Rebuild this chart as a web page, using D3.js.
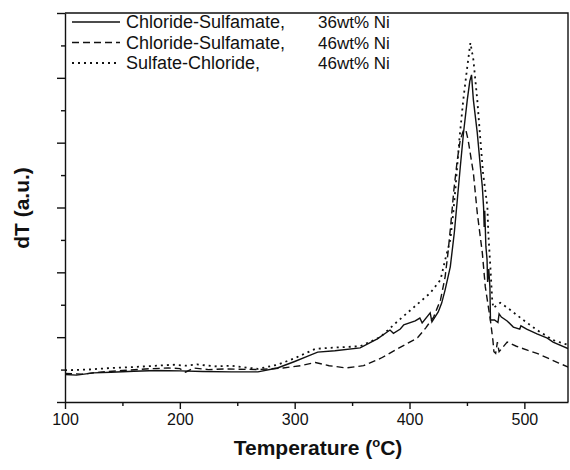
<html>
<script src='https://d3js.org/d3.v7.min.js'></script>

<style>
body { margin: 0; background: #fff; }
text { font-family: "Liberation Sans", Arial, sans-serif; fill: #111; }
.axis path, .axis line { stroke: #111; stroke-width: 1.4; }
.axis text { font-size: 16px; }
</style>

<body onload='init()'>
<svg width="570" height="470" class="chart"></svg>

<script>
// DTA curves, [temperature (C), dT (a.u.)]
var cs36 = [[100,0.85],[110,0.83],[125,0.9],[140,0.92],[160,0.95],[180,0.97],[200,0.96],[220,0.94],[245,0.93],[268,0.93],
  [285,1.05],[300,1.25],[312,1.42],[320,1.54],[335,1.58],[357,1.67],[372,1.95],[383,2.22],[386,2.12],[392,2.25],
  [395,2.38],[405,2.5],[409,2.59],[411,2.44],[418,2.75],[419.5,2.47],[425,2.78],[428,3.05],[431,3.46],[435.5,4.17],
  [439,5.22],[441.6,6.23],[444.2,7.25],[447,8.3],[450.3,9.32],[452.5,9.9],[454,10.09],[455.6,9.32],[459,8.3],
  [461.7,7.25],[463.4,6.64],[464.5,6.0],[465,5.4],[465.5,5.9],[466.5,4.8],[467.5,4.4],[468,3.7],[469,4.1],[470,3.55],
  [470.5,2.53],[474,2.53],[477,2.45],[478,2.72],[480,2.62],[485,2.5],[490.4,2.31],[496,2.25],[497,2.35],[502,2.25],
  [511,2.1],[520,1.97],[525,1.85],[538,1.65],[540,1.62]];

var cs46 = [[100,0.88],[115,0.86],[130,0.92],[150,0.97],[170,1.02],[190,1.05],[200,1.03],[205,0.92],[212,1.05],[225,1.0],
  [240,1.02],[268,1.0],[290,1.05],[305,1.12],[318,1.22],[330,1.12],[345,1.05],[360,1.12],[375,1.35],[390,1.65],
  [407,1.98],[414,2.28],[421,2.62],[427,3.15],[431,3.86],[433.5,4.6],[436,5.5],[438.5,6.5],[441.6,7.47],[444.2,8.09],
  [447,8.38],[449,8.4],[451,8.09],[455.6,7.07],[459,5.83],[463.4,4.6],[466,3.55],[470.4,2.53],[472.6,1.91],[473.5,1.55],
  [475,1.5],[476.5,1.85],[478,1.55],[485,1.85],[493,1.72],[502.6,1.6],[511,1.5],[520,1.36],[530,1.2],[540,1.05]];

var sc46 = [[100,0.98],[120,1.0],[140,1.05],[160,1.08],[180,1.12],[195,1.15],[205,1.12],[215,1.16],[230,1.1],[245,1.12],
  [268,1.02],[285,1.15],[300,1.35],[318,1.64],[335,1.68],[357,1.72],[374.5,2.0],[389,2.47],[403,2.9],[418,3.36],
  [427,3.77],[431,4.38],[435.5,5.0],[438,5.8],[440,6.6],[443.4,8.09],[446.8,9.32],[450.3,10.34],[453,11.08],
  [455.6,10.56],[459,9.32],[461.7,8.09],[464,7.07],[467.8,6.02],[468.6,5.22],[470.4,4.17],[472,3.15],[473,2.9],
  [479,3.06],[487.8,2.84],[499,2.53],[511,2.22],[525,1.91],[538,1.76],[540,1.74]];

var series = [
  {name: "Chloride-Sulfamate,", comp: "36wt% Ni", data: cs36, dash: null},
  {name: "Chloride-Sulfamate,", comp: "46wt% Ni", data: cs46, dash: "7,4"},
  {name: "Sulfate-Chloride,", comp: "46wt% Ni", data: sc46, dash: "2,4"}
];

var xMajor = [100, 200, 300, 400, 500];
var xMinor = [150, 250, 350, 450];
var yMajor = [0, 2, 4, 6, 8, 10, 12];
var yMinor = [1, 3, 5, 7, 9, 11];

function init() {
    var svg = d3.select(".chart");
    var L = 65, R = 568, T = 13, B = 402;

    var x = d3.scaleLinear().domain([100, 538]).range([L, R]);
    var y = d3.scaleLinear().domain([0, 12]).range([B, T]);

    svg.append("clipPath").attr("id", "clip")
      .append("rect").attr("x", L).attr("y", T).attr("width", R - L).attr("height", B - T);

    var line = d3.line()
        .x(function(d) { return x(d[0]); })
        .y(function(d) { return y(d[1]); });

    svg.append("g").attr("clip-path", "url(#clip)")
      .selectAll("path")
      .data(series)
      .enter()
      .append("path")
      .attr("d", function(d) { return line(d.data); })
      .attr("fill", "none")
      .attr("stroke", "#111")
      .attr("stroke-width", function(d) { return d.dash == "2,4" ? 1.8 : 1.4; })
      .attr("stroke-dasharray", function(d) { return d.dash; });

    // axes
    svg.append("g").attr("class", "axis")
      .attr("transform", "translate(0," + B + ")")
      .call(d3.axisBottom(x).tickValues(xMajor).tickSize(7).tickSizeOuter(0).tickPadding(5));
    svg.append("g").attr("class", "axis")
      .attr("transform", "translate(0," + B + ")")
      .call(d3.axisBottom(x).tickValues(xMinor).tickSize(4).tickFormat(""))
      .select(".domain").remove();

    svg.append("g").attr("class", "axis")
      .attr("transform", "translate(" + L + ",0)")
      .call(d3.axisLeft(y).tickValues(yMajor).tickSize(8).tickSizeOuter(0).tickFormat(""));
    svg.append("g").attr("class", "axis")
      .attr("transform", "translate(" + L + ",0)")
      .call(d3.axisLeft(y).tickValues(yMinor).tickSize(4).tickFormat(""))
      .select(".domain").remove();

    // top and right frame
    svg.append("path")
      .attr("d", "M" + L + "," + T + "H" + R + "V" + B)
      .attr("fill", "none").attr("stroke", "#111").attr("stroke-width", 1.4);

    // titles
    var xt = svg.append("text")
      .attr("x", 318).attr("y", 455)
      .attr("text-anchor", "middle")
      .style("font-size", "21px").style("font-weight", "bold");
    xt.append("tspan").text("Temperature (");
    xt.append("tspan").attr("dy", -8).style("font-size", "13px").text("o");
    xt.append("tspan").attr("dy", 8).text("C)");

    svg.append("text")
      .attr("transform", "translate(29,208) rotate(-90)")
      .attr("text-anchor", "middle")
      .style("font-size", "21px").style("font-weight", "bold")
      .text("dT (a.u.)");

    // legend
    var leg = svg.append("g").selectAll("g")
      .data(series)
      .enter()
      .append("g")
      .attr("transform", function(d, i) { return "translate(0," + (22 + 20.5 * i) + ")"; });
    leg.append("line")
      .attr("x1", 72).attr("x2", 120)
      .attr("stroke", "#111")
      .attr("stroke-width", function(d) { return d.dash == "2,4" ? 1.8 : 1.4; })
      .attr("stroke-dasharray", function(d) { return d.dash; });
    leg.append("text").attr("x", 126).attr("y", 6)
      .style("font-size", "18px").text(function(d) { return d.name; });
    leg.append("text").attr("x", 318).attr("y", 6)
      .style("font-size", "17px").text(function(d) { return d.comp; });
}
</script>
</body>

</html>
